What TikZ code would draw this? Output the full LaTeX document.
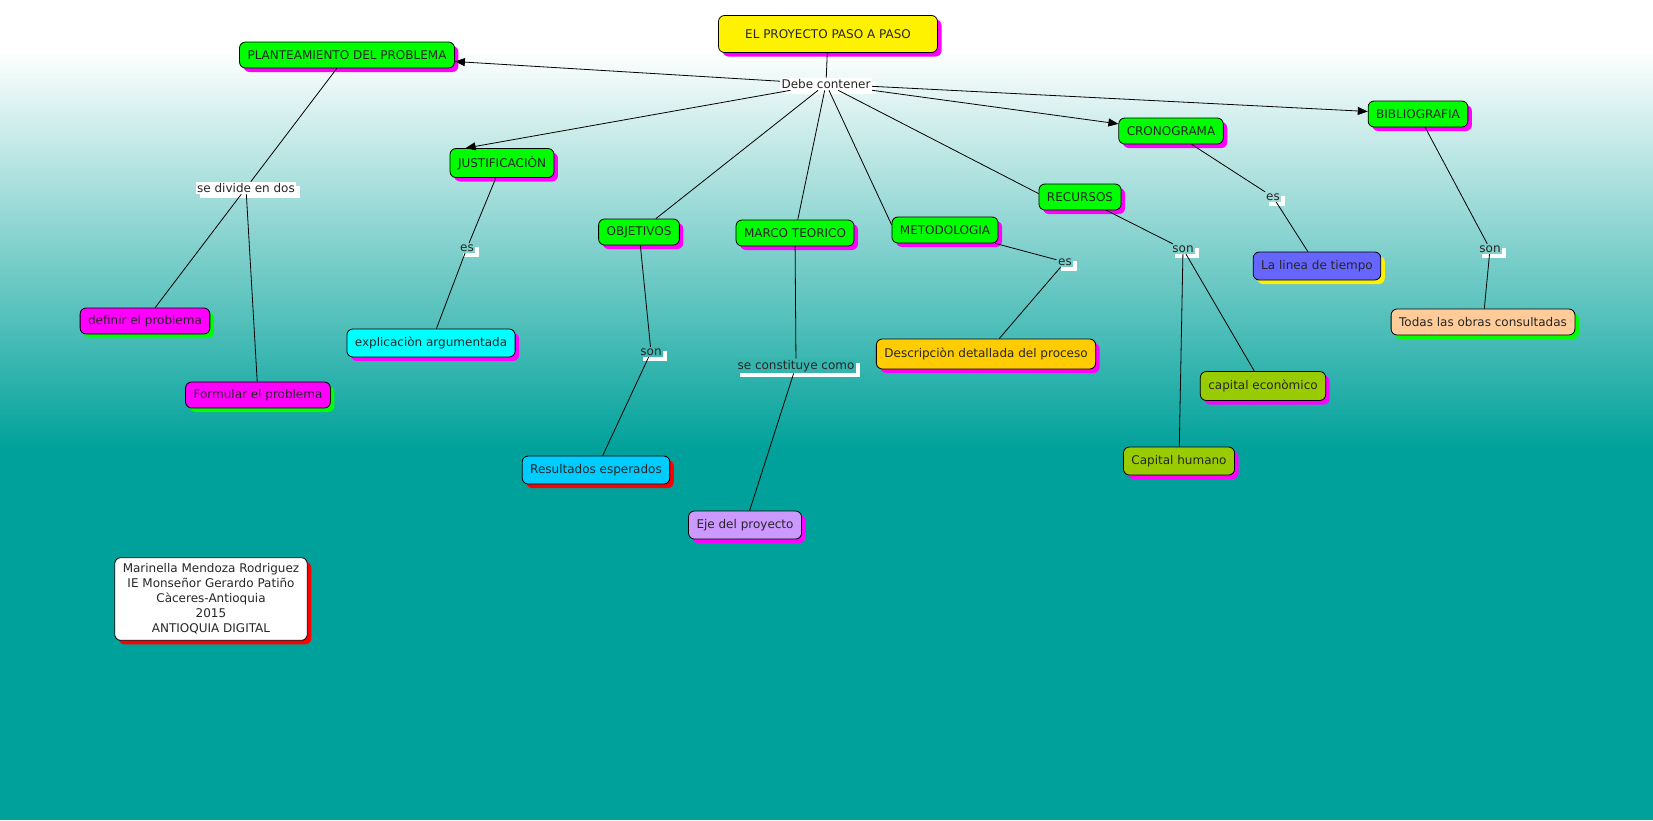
\documentclass[tikz,border=0pt]{standalone}
\usepackage{fontspec}
\setmainfont{DejaVu Sans}
\usetikzlibrary{arrows.meta,shadows}

\definecolor{bgteal}{RGB}{0,161,154}
\definecolor{cmgreen}{RGB}{0,255,0}
\definecolor{cmmagenta}{RGB}{255,0,255}
\definecolor{cmcyan}{RGB}{0,255,255}
\definecolor{cmsky}{RGB}{0,204,255}
\definecolor{cmlila}{RGB}{204,153,255}
\definecolor{cmorange}{RGB}{255,204,0}
\definecolor{cmolive}{RGB}{153,204,0}
\definecolor{cmblue}{RGB}{102,102,255}
\definecolor{cmpeach}{RGB}{255,204,153}

\tikzset{
  concept/.style={draw=black, line width=0.8pt, rounded corners=6pt,
    inner xsep=8pt, inner ysep=3pt, minimum height=26pt,
    text=black!85, font=\fontsize{12}{14}\selectfont},
  shadowcol/.style={drop shadow={fill=#1, opacity=1,
    shadow xshift=4pt, shadow yshift=-4pt}},
  linkword/.style={fill=#1, inner sep=1.5pt, text=black!85,
    font=\fontsize{12}{14}\selectfont,
    drop shadow={fill=white, opacity=1, shadow xshift=4pt, shadow yshift=-4pt}},
  conn/.style={line width=0.8pt},
  arr/.style={conn, -{Triangle[length=10pt,width=8pt]}},
}

\begin{document}
\begin{tikzpicture}[x=1pt,y=-1pt]
  \useasboundingbox (0,0) rectangle (1653,820);
  % fondo
  \fill[bgteal] (0,0) rectangle (1653,820);
  \fill[white] (0,0) rectangle (1653,50);
  \shade[top color=white, bottom color=bgteal] (0,50) rectangle (1653,450);

  % raiz
  \node[concept, fill=yellow, shadowcol=cmmagenta, minimum width=219pt, minimum height=37pt] (titulo) at (828,34) {EL PROYECTO PASO A PASO};
  \node[linkword=white] (debe) at (826,84) {Debe contener};

  % partes
  \node[concept, fill=cmgreen, shadowcol=cmmagenta] (plante) at (347,55) {PLANTEAMIENTO DEL PROBLEMA};
  \node[concept, fill=cmgreen, shadowcol=cmmagenta, minimum height=29pt] (justif) at (502,163) {JUSTIFICACIÒN};
  \node[concept, fill=cmgreen, shadowcol=cmmagenta] (obj) at (639,232) {OBJETIVOS};
  \node[concept, fill=cmgreen, shadowcol=cmmagenta] (marco) at (795,233) {MARCO TEORICO};
  \node[concept, fill=cmgreen, shadowcol=cmmagenta] (metod) at (945,230) {METODOLOGIA};
  \node[concept, fill=cmgreen, shadowcol=cmmagenta] (recur) at (1080,197) {RECURSOS};
  \node[concept, fill=cmgreen, shadowcol=cmmagenta] (crono) at (1171,131) {CRONOGRAMA};
  \node[concept, fill=cmgreen, shadowcol=cmmagenta] (biblio) at (1418,114) {BIBLIOGRAFIA};

  % palabras de enlace
  \node[linkword=white] (divide) at (246,188) {se divide en dos};
  \node[linkword=bgteal!50!white] (esjus) at (467,248) {es};
  \node[linkword=bgteal!75!white] (sonobj) at (651,352) {son};
  \node[linkword=bgteal!79!white] (constit) at (796,366) {se constituye como};
  \node[linkword=bgteal!53!white] (esmet) at (1065,262) {es};
  \node[linkword=bgteal!50!white] (sonrec) at (1183,249) {son};
  \node[linkword=bgteal!37!white] (escro) at (1273,197) {es};
  \node[linkword=bgteal!50!white] (sonbib) at (1490,249) {son};

  % hojas
  \node[concept, fill=cmmagenta, shadowcol=cmgreen] (definir) at (145,321) {definir el problema};
  \node[concept, fill=cmmagenta, shadowcol=cmgreen] (formular) at (258,395) {Formular el problema};
  \node[concept, fill=cmcyan, shadowcol=cmmagenta, minimum height=28pt] (explic) at (431,343) {explicaciòn argumentada};
  \node[concept, fill=cmsky, shadowcol=red, minimum height=28pt] (result) at (596,470) {Resultados esperados};
  \node[concept, fill=cmlila, shadowcol=cmmagenta, minimum height=28pt] (eje) at (745,525) {Eje del proyecto};
  \node[concept, fill=cmorange, shadowcol=cmmagenta, minimum height=30pt] (descrip) at (986,354) {Descripciòn detallada del proceso};
  \node[concept, fill=cmolive, shadowcol=cmmagenta, minimum height=29pt] (economico) at (1263,386) {capital econòmico};
  \node[concept, fill=cmolive, shadowcol=cmmagenta, minimum height=28pt] (humano) at (1179,461) {Capital humano};
  \node[concept, fill=cmblue, shadowcol=yellow, minimum height=28pt] (linea) at (1317,266) {La linea de tiempo};
  \node[concept, fill=cmpeach, shadowcol=cmgreen] (obras) at (1483,322) {Todas las obras consultadas};

  % autora
  \node[concept, fill=white, shadowcol=red, align=center, inner ysep=6pt,
    font=\fontsize{12}{15}\selectfont] (autora) at (211,599)
    {Marinella Mendoza Rodriguez\\IE Monseñor Gerardo Patiño\\Càceres-Antioquia\\2015\\ANTIOQUIA DIGITAL};

  % conectores
  \draw[conn] (titulo) -- (debe);
  \draw[arr] (debe) -- (plante);
  \draw[arr] (debe) -- ([xshift=16pt]justif.north west);
  \draw[conn] (debe) -- (obj);
  \draw[conn] (debe) -- (marco);
  \draw[conn] (debe) -- ([yshift=-8pt]metod.north west);
  \draw[conn] (debe) -- ([yshift=-10pt]recur.north west);
  \draw[arr] (debe) -- (crono);
  \draw[arr] (debe) -- (biblio);

  \draw[conn] (plante) -- (divide);
  \draw[conn] (divide) -- (definir);
  \draw[conn] (divide) -- (formular);
  \draw[conn] (justif) -- (esjus) -- (explic);
  \draw[conn] (obj) -- (sonobj) -- (result);
  \draw[conn] (marco) -- (constit) -- (eje);
  \draw[conn] (metod) -- (esmet) -- (descrip);
  \draw[conn] (recur) -- (sonrec);
  \draw[conn] (sonrec) -- (humano);
  \draw[conn] (sonrec) -- (economico);
  \draw[conn] (crono) -- (escro) -- (linea);
  \draw[conn] (biblio) -- (sonbib) -- (obras);
\end{tikzpicture}
\end{document}
